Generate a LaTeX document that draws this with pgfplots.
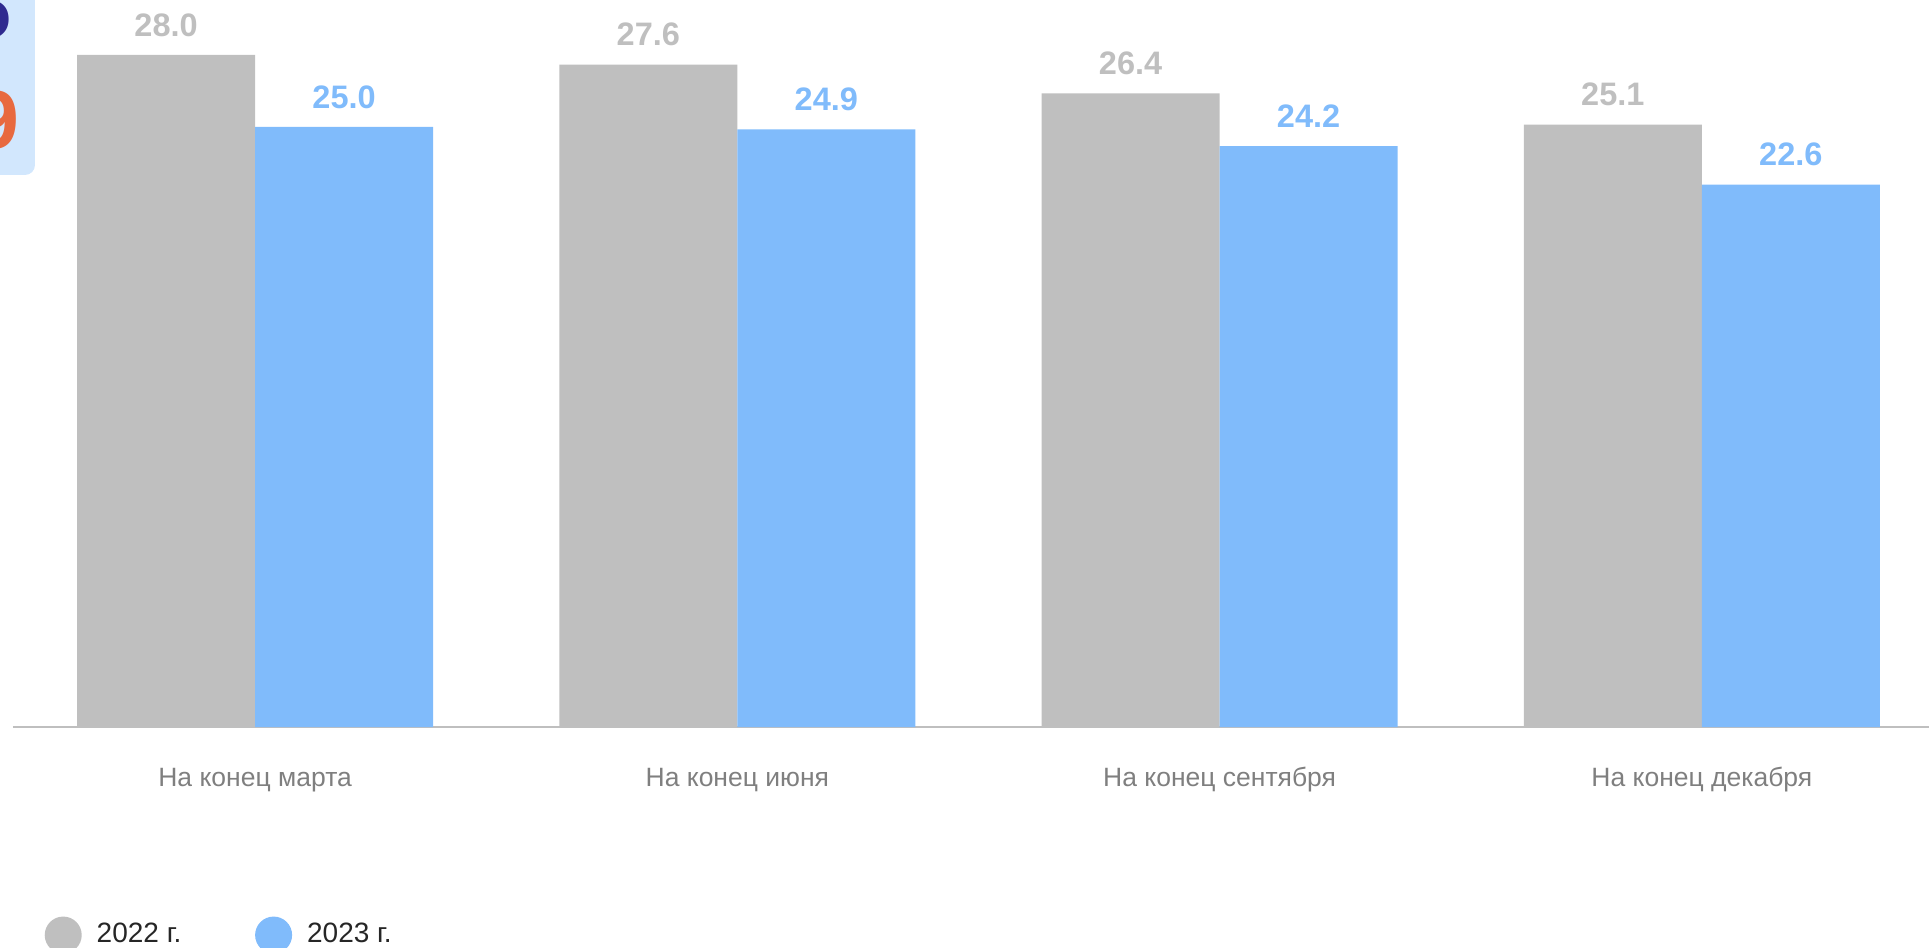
\documentclass[border=0pt]{standalone}
\usepackage{fontspec}
\setmainfont{Liberation Sans}
\usepackage{pgfplots}
\pgfplotsset{compat=1.18}
\definecolor{cgray}{HTML}{BFBFBF}
\definecolor{cblue}{HTML}{80BBFB}
\definecolor{clab}{HTML}{7F7F7F}
\definecolor{cleg}{HTML}{262626}
\definecolor{cpanel}{HTML}{D2E7FD}
\definecolor{cnavy}{HTML}{2E2A8F}
\definecolor{corange}{HTML}{E8693F}
\begin{document}
\begin{tikzpicture}
\useasboundingbox (0,0) rectangle (771.6pt,-379.2pt);
\clip (0,0) rectangle (771.6pt,-379.2pt);
\begin{scope}[x=0.4pt,y=-0.4pt]
\fill[cpanel, rounded corners=4pt] (-100,-100) rectangle (35,175);
\node[anchor=south east, inner sep=0pt, text=cnavy, font=\bfseries\fontsize{33}{33}\selectfont] at (12,40) {5};
\node[anchor=south east, inner sep=0pt, text=corange, font=\bfseries\fontsize{33}{33}\selectfont] at (20,150) {9};
\end{scope}
\begin{axis}[
  at={(5.2pt,-290.8pt)}, anchor=south west,
  scale only axis, width=766.4pt, height=290.8pt,
  xmin=-0.502, xmax=3.471, ymin=0, ymax=30.29,
  axis x line=bottom, axis y line=none,
  x axis line style={-, cgray, line width=0.8pt},
  ytick=\empty, xtick={0,1,2,3},
  xticklabels={На конец марта, На конец июня, На конец сентября, На конец декабря},
  major tick length=0pt,
  xticklabel style={font=\fontsize{10.6}{10.6}\selectfont, text=clab, anchor=base, yshift=-23.6pt},
  ybar=0pt, bar width=71.2pt,
  clip=false,
  /pgf/number format/assume math mode=true,
  nodes near coords={\pgfmathprintnumber[fixed,fixed zerofill,precision=1]{\pgfplotspointmeta}},
  every node near coord/.append style={font=\bfseries\fontsize{13}{13}\selectfont, anchor=south, inner sep=0pt, yshift=7.2pt},
  legend columns=2,
  legend image code/.code={\fill[#1] (7.4pt,0pt) circle (7.4pt);},
  legend style={draw=none, fill=none, at={(0.0163,-0.2862)}, anchor=west,
    font=\fontsize{11.2}{11.2}\selectfont, text=cleg, inner sep=0pt,
    /tikz/every odd column/.append style={column sep=4pt},
    /tikz/every even column/.append style={column sep=27.5pt}},
]
\addplot[fill=cgray, draw=none, every node near coord/.append style={text=cgray}] coordinates {(0,28.0) (1,27.6) (2,26.4) (3,25.1)};
\addplot[fill=cblue, draw=none, every node near coord/.append style={text=cblue}] coordinates {(0,25.0) (1,24.9) (2,24.2) (3,22.6)};
\legend{2022 г., 2023 г.}
\end{axis}
\end{tikzpicture}
\end{document}
